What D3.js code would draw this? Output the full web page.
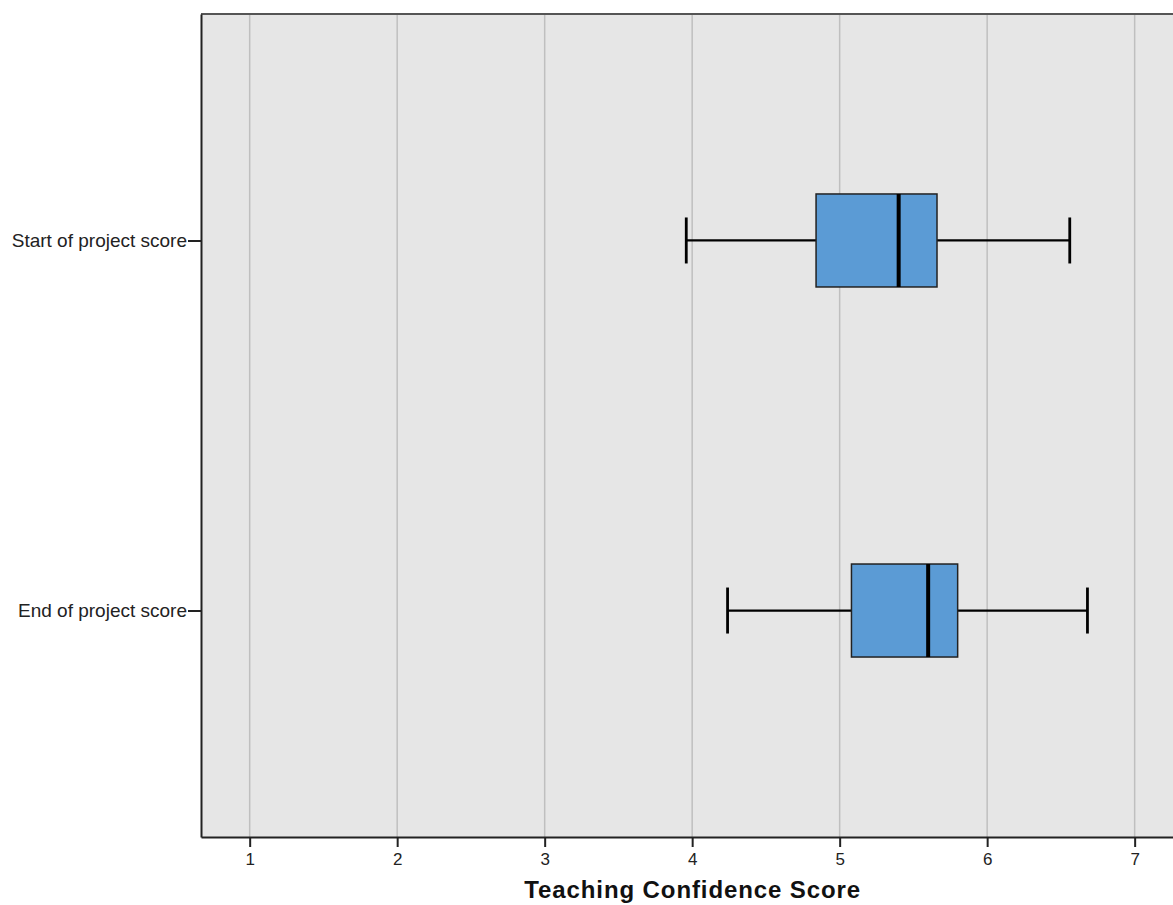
<!DOCTYPE html>
<html>
<head>
<meta charset="utf-8">
<script src="https://cdn.jsdelivr.net/npm/d3@7"></script>
<style>
  html, body { margin: 0; padding: 0; background: #ffffff; }
  svg { display: block; font-family: "Liberation Sans", Arial, sans-serif; }
</style>
</head>
<body>
<svg id="chart" width="1173" height="905"></svg>
<script>
const categories = ["Start of project score", "End of project score"];
const whiskerLow = [3.96, 4.24];
const quartile1 = [4.84, 5.08];
const medians = [5.40, 5.60];
const quartile3 = [5.66, 5.80];
const whiskerHigh = [6.56, 6.68];
const xTicks = [1, 2, 3, 4, 5, 6, 7];
const xTitle = "Teaching Confidence Score";

const data = categories.map((c, i) => ({
  cat: c, lo: whiskerLow[i], q1: quartile1[i], med: medians[i], q3: quartile3[i], hi: whiskerHigh[i]
}));

const svg = d3.select("#chart");
const plotLeft = 201, plotRight = 1173, plotTop = 14, plotBottom = 837;

const x = d3.scaleLinear().domain([0.67, 7.26]).range([plotLeft, plotRight]);
const y = d3.scalePoint().domain(categories).range([plotTop, plotBottom]).padding(0.612);
const boxH = 93, capH = 46;

// plot background
svg.append("rect").attr("x", plotLeft).attr("y", plotTop).attr("width", plotRight - plotLeft + 10).attr("height", plotBottom - plotTop)
  .attr("fill", "#e6e6e6");

// grid lines
svg.append("g").selectAll("line").data(xTicks).join("line")
  .attr("x1", d => x(d)).attr("x2", d => x(d)).attr("y1", plotTop).attr("y2", plotBottom)
  .attr("stroke", "#bfbfbf").attr("stroke-width", 1.5);

// top border
svg.append("line").attr("x1", plotLeft).attr("x2", plotRight + 5).attr("y1", plotTop).attr("y2", plotTop)
  .attr("stroke", "#555").attr("stroke-width", 2);

// boxes
const g = svg.append("g").selectAll("g").data(data).join("g");
g.append("line").attr("x1", d => x(d.lo)).attr("x2", d => x(d.q1))
  .attr("y1", d => y(d.cat)).attr("y2", d => y(d.cat)).attr("stroke", "#000").attr("stroke-width", 2.2);
g.append("line").attr("x1", d => x(d.q3)).attr("x2", d => x(d.hi))
  .attr("y1", d => y(d.cat)).attr("y2", d => y(d.cat)).attr("stroke", "#000").attr("stroke-width", 2.2);
g.append("line").attr("x1", d => x(d.lo)).attr("x2", d => x(d.lo))
  .attr("y1", d => y(d.cat) - capH / 2).attr("y2", d => y(d.cat) + capH / 2).attr("stroke", "#000").attr("stroke-width", 2.8);
g.append("line").attr("x1", d => x(d.hi)).attr("x2", d => x(d.hi))
  .attr("y1", d => y(d.cat) - capH / 2).attr("y2", d => y(d.cat) + capH / 2).attr("stroke", "#000").attr("stroke-width", 2.8);
g.append("rect").attr("x", d => x(d.q1)).attr("width", d => x(d.q3) - x(d.q1))
  .attr("y", d => y(d.cat) - boxH / 2).attr("height", boxH)
  .attr("fill", "#5b9bd5").attr("stroke", "#222").attr("stroke-width", 1.5);
g.append("line").attr("x1", d => x(d.med)).attr("x2", d => x(d.med))
  .attr("y1", d => y(d.cat) - boxH / 2).attr("y2", d => y(d.cat) + boxH / 2)
  .attr("stroke", "#000").attr("stroke-width", 4);

// x axis
const xAxis = svg.append("g").attr("transform", `translate(0,${plotBottom})`)
  .call(d3.axisBottom(x).tickValues(xTicks).tickFormat(d3.format("d")).tickSize(10).tickPadding(6).tickSizeOuter(0));
xAxis.select(".domain").attr("stroke", "#222").attr("stroke-width", 2);
xAxis.selectAll(".tick line").attr("stroke", "#222").attr("stroke-width", 2);
xAxis.selectAll(".tick text").attr("font-size", 17).attr("fill", "#222")
  .attr("font-family", "'Liberation Sans', Arial, sans-serif");

// y axis
const yAxis = svg.append("g").attr("transform", `translate(${plotLeft},0)`)
  .call(d3.axisLeft(y).tickSize(13).tickPadding(1).tickSizeOuter(0));
yAxis.select(".domain").attr("stroke", "#222").attr("stroke-width", 2);
yAxis.selectAll(".tick line").attr("stroke", "#222").attr("stroke-width", 2);
yAxis.selectAll(".tick text").attr("font-size", 19).attr("fill", "#222")
  .attr("font-family", "'Liberation Sans', Arial, sans-serif");

// x title
svg.append("text").attr("x", (x(1) + x(7)) / 2 + 0.5).attr("y", 898)
  .attr("text-anchor", "middle").attr("font-size", 24).attr("font-weight", "bold")
  .attr("letter-spacing", 0.9).attr("fill", "#111").text(xTitle);
</script>
</body>
</html>
